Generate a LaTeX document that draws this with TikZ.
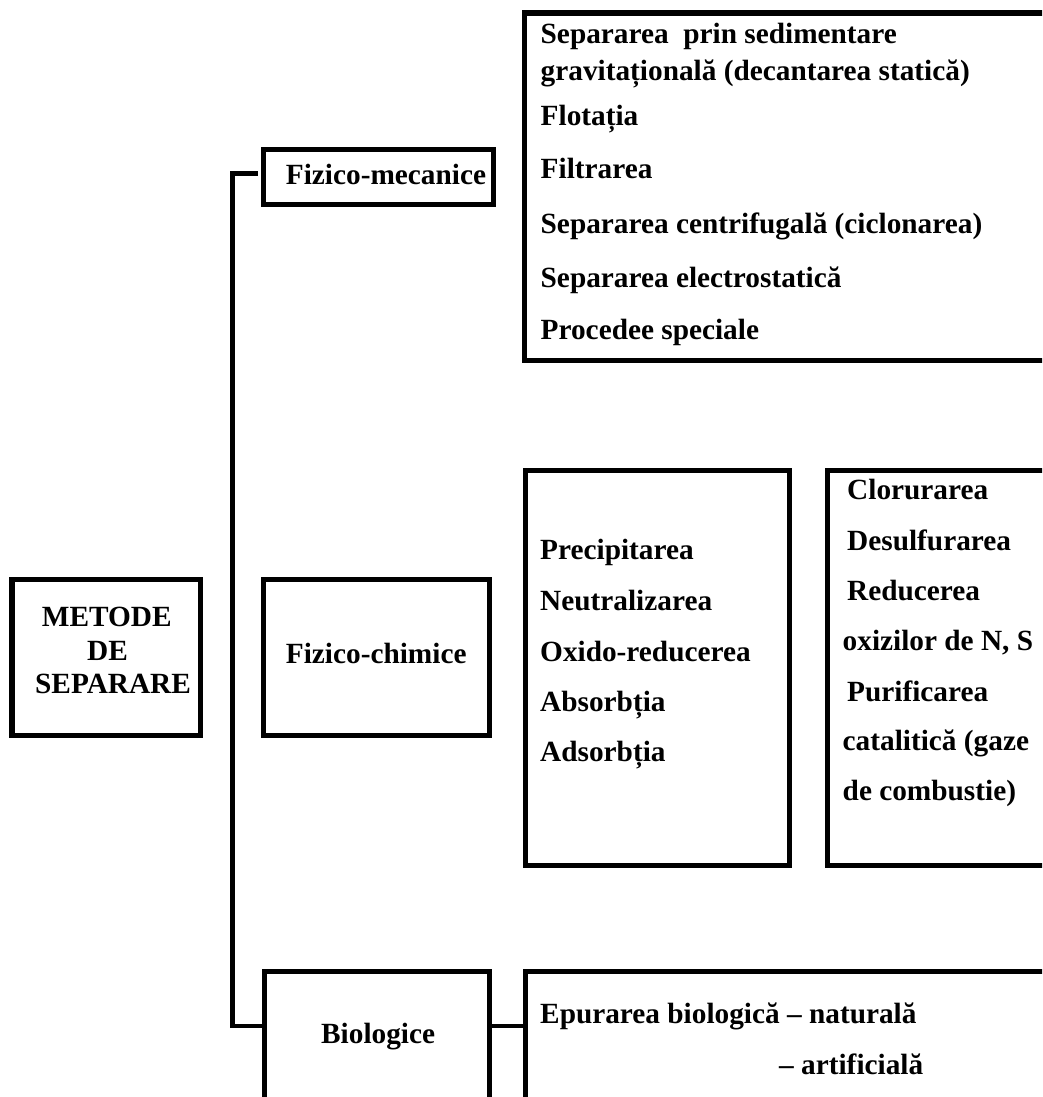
\documentclass[tikz,border=0pt]{standalone}
\usepackage{fontspec}
\setmainfont{Liberation Serif}
\tikzset{
  box/.style={draw, line width=5.5pt, rectangle, inner sep=0pt},
  txt/.style={anchor=base west, inner sep=0pt, font=\fontsize{29.3pt}{35pt}\selectfont\bfseries},
  conn/.style={line width=4.5pt},
}
\begin{document}
\begin{tikzpicture}[x=1pt,y=-1pt]
\useasboundingbox (0,0) rectangle (1042,1097);
\fill[white] (0,0) rectangle (1042,1097);
\clip (0,0) rectangle (1042,1097);

% boxes
\node[box, minimum width=188.5pt, minimum height=156pt] (metode) at (106.25,657.5) {};
\node[box, minimum width=230pt, minimum height=55pt] (fm) at (378.5,177) {};
\node[box, minimum width=226pt, minimum height=156pt] (fc) at (376.5,657.5) {};
\node[box, minimum width=225pt, minimum height=170pt] (bio) at (377,1056.5) {};
\node[box, minimum width=545pt, minimum height=347.5pt] (fml) at (797,186.75) {};
\node[box, minimum width=264pt, minimum height=395pt] (pl) at (657.5,668) {};
\node[box, minimum width=245pt, minimum height=395pt] (cl) at (950,668) {};
\node[box, minimum width=545pt, minimum height=170pt] (ep) at (798,1056.5) {};

% connectors
\draw[conn] ([xshift=-3pt,yshift=3.5pt]fm.west) -- ++(-25.5,0) |- ([yshift=-57pt]bio.north west);
\draw[conn] ([yshift=-57pt]bio.north east) -- ([yshift=-57pt]ep.north west);

% main box text
\node[txt] (m1) at (41.7,626) {METODE};
\node[txt] (m2) at (87,660) {DE};
\node[txt] (m3) at (35,693.3) {SEPARARE};

\node[txt] (fmt) at (285.7,184) {Fizico-mecanice};
\node[txt] (fct) at (285.7,663) {Fizico-chimice};
\node[txt] (biot) at (321,1043) {Biologice};

% fizico-mecanice list
\node[txt] (a1) at (540.5,43.3) {Separarea\ \ prin sedimentare};
\node[txt] (a2) at (540.5,81) {gravitațională (decantarea statică)};
\node[txt] (a3) at (540.5,125) {Flotația};
\node[txt] (a4) at (540.5,178) {Filtrarea};
\node[txt] (a5) at (540.5,233) {Separarea centrifugală (ciclonarea)};
\node[txt] (a6) at (540.5,287) {Separarea electrostatică};
\node[txt] (a7) at (540.5,339) {Procedee speciale};

% fizico-chimice list 1
\node[txt] (b1) at (540,559) {Precipitarea};
\node[txt] (b2) at (540,610) {Neutralizarea};
\node[txt] (b3) at (540,661) {Oxido-reducerea};
\node[txt] (b4) at (540,711) {Absorbția};
\node[txt] (b5) at (540,761) {Adsorbția};

% fizico-chimice list 2
\node[txt] (c1) at (847,499) {Clorurarea};
\node[txt] (c2) at (847,550) {Desulfurarea};
\node[txt] (c3) at (847,600.7) {Reducerea};
\node[txt] (c4) at (842.5,650.7) {oxizilor de N, S};
\node[txt] (c5) at (847,701.7) {Purificarea};
\node[txt] (c6) at (842.5,750.7) {catalitică (gaze};
\node[txt] (c7) at (842.5,800) {de combustie)};

% biologice list
\node[txt] (d1) at (540,1023.3) {Epurarea biologică – naturală};
\node[txt] (d2) at (779,1074) {– artificială};
\end{tikzpicture}
\end{document}
